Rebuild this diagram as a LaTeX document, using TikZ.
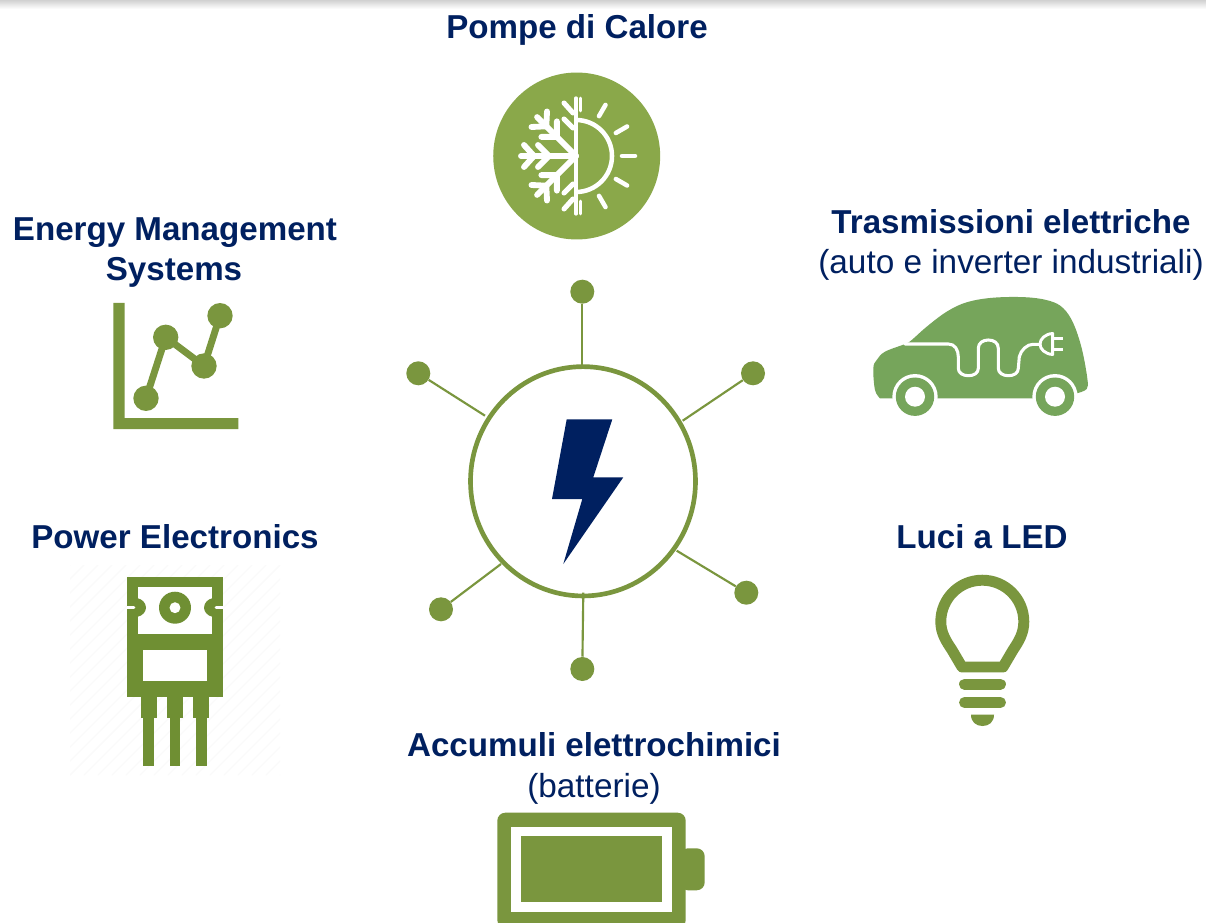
\documentclass[tikz,border=0pt]{standalone}
\usetikzlibrary{shapes.geometric}
\usepackage{fontspec}
\setmainfont{Liberation Sans}
\definecolor{navy}{HTML}{002060}
\definecolor{olive}{HTML}{7A963E}
\definecolor{oliveb}{HTML}{6F8F33}
\definecolor{pump}{HTML}{8AA84A}
\definecolor{carg}{HTML}{76A55B}
\tikzset{
  titlelab/.style={anchor=base,text=navy,inner sep=0pt,font=\fontsize{24.85}{30}\selectfont\bfseries},
  sublab/.style={anchor=base,text=navy,inner sep=0pt,font=\fontsize{25}{30}\selectfont},
  dot/.style={circle,fill=olive,draw=none,minimum size=18pt,inner sep=0pt},
  spoke/.style={draw=olive,line width=1.6pt},
  wln/.style={draw=white,line width=3.4pt,line cap=round},
}
\begin{document}
\begin{tikzpicture}[x=0.75pt,y=-0.75pt]
\useasboundingbox (0,0) rectangle (1206,923);
\fill[white] (0,0) rectangle (1206,923);
\shade[top color=black!18,bottom color=white] (0,0) rectangle (1206,9);

% labels
\node[titlelab] (lpump) at (577,39) {Pompe di Calore};
\node[titlelab] (lems1) at (175,241) {Energy Management};
\node[titlelab] (lems2) at (174,281) {Systems};
\node[titlelab] (ltr1) at (1011,234) {Trasmissioni elettriche};
\node[sublab] (ltr2) at (1011,274) {(auto e inverter industriali)};
\node[titlelab] (lpe) at (175,548) {Power Electronics};
\node[titlelab] (lled) at (982,548) {Luci a LED};
\node[titlelab] (lacc1) at (594,756) {Accumuli elettrochimici};
\node[sublab] (lacc2) at (594,797) {(batterie)};

% hub
\node[ellipse,draw=olive,line width=3.5pt,fill=white,minimum width=168.75pt,minimum height=172pt,inner sep=0pt] (hub) at (583,481.3) {};
\fill[navy] (566.7,419.3) -- (612.3,419.3) -- (593.3,477.3) -- (623.3,477.3) -- (563.3,564) -- (582.3,499) -- (552,499) -- cycle;
\node[dot] (d1) at (582.3,291.7) {};
\node[dot] (d2) at (753,373.3) {};
\node[dot] (d3) at (746.3,592.7) {};
\node[dot] (d4) at (582.3,669) {};
\node[dot] (d5) at (441,609.3) {};
\node[dot] (d6) at (418.3,373.3) {};
\coordinate (e1) at (582.3,365);
\coordinate (e2) at (682.7,420.7);
\coordinate (e3) at (676.7,550.7);
\coordinate (e4) at (583.3,592.7);
\coordinate (e5) at (501,564);
\coordinate (e6) at (485,415.7);
\foreach \i in {1,...,6} {\draw[spoke] (d\i) -- (e\i);}

% heat pump icon
\fill[pump] (576.7,156) circle[radius=62.6pt];
\draw[wln,line width=2.4pt] (576,98) -- (576,214);
\draw[wln,line width=2pt] (580.5,98) -- (580.5,111);
\draw[wln,line width=2pt] (580.5,201) -- (580.5,214);
\draw[wln,line cap=butt] (576,120) .. controls (595.9,120) and (612,136.1) .. (612,156) .. controls (612,175.9) and (595.9,192) .. (576,192);
\foreach \a in {-60,-30,0,30,60} {
  \draw[wln] ({576+46*cos(\a)},{156+46*sin(\a)}) -- ({576+59*cos(\a)},{156+59*sin(\a)});
}
\foreach \a in {135,180,225} {
  \begin{scope}[shift={(576,156)},rotate=\a]
    \draw[wln,line width=4.4pt] (0,0) -- (55,0);
    \draw[wln,line width=4.4pt] (27,0) -- (38,11) (27,0) -- (38,-11) (42,0) -- (52,11) (42,0) -- (52,-11);
  \end{scope}
}
\draw[wln,line width=3.8pt] (573,113) -- (564,103) (573,128) -- (564,119) (573,199) -- (564,209) (573,184) -- (564,193);

% car icon
\fill[carg] plot[smooth,tension=0.6] coordinates {(880,398.3) (875,390) (873.3,368.3) (876.7,360) (885,351.7) (905,344) (911.7,340) (926.7,326.7) (946.7,311.7) (966.7,302.3) (993.3,297.7) (1026.7,297.3) (1050,301) (1063.3,308.3) (1073.3,323.3) (1081.7,348.3) (1087.3,378.3) (1086.7,389) (1076.7,393.3)}
  -- (1076,398.3) -- cycle;
\draw[white,line width=2.3pt,line cap=round] (905,344) -- (948.3,344) .. controls (955,344) and (958.3,350) .. (958.3,356.7) -- (958.3,368.3)
  .. controls (958.3,373) and (963,375.7) .. (968.3,375.7) .. controls (974,375.7) and (978.3,373) .. (978.3,368.3) -- (978.3,348.3)
  .. controls (978.3,343) and (983,340) .. (988.3,340) .. controls (994,340) and (998.3,343) .. (998.3,348.3) -- (998.3,368.3)
  .. controls (998.3,373) and (1003,375.7) .. (1008.3,375.7) .. controls (1014,375.7) and (1018.3,373) .. (1018.3,368.3) -- (1019.3,356.7)
  .. controls (1021,350) and (1027,344.3) .. (1033,344.3) -- (1040,344.3);
\draw[white,line width=2.2pt,line join=round] (1052.7,333.5) .. controls (1045,334) and (1040,339) .. (1040,344.3) .. controls (1040,349) and (1045,354) .. (1052.7,354.5) -- cycle;
\draw[white,line width=2.2pt] (1052.7,338.3) -- (1063,338.3) (1052.7,349.5) -- (1063,349.5);
\foreach \cx in {915,1055} {
  \fill[white] (\cx,396.7) circle[radius=17pt];
  \fill[carg] (\cx,396.7) circle[radius=14.4pt];
  \fill[white] (\cx,396.7) circle[radius=7.5pt];
}

% chart icon
\fill[olive] (113.3,303) -- (124.7,303) -- (124.7,418) -- (238.3,418) -- (238.3,429) -- (113.3,429) -- cycle;
\draw[olive,line width=5.2pt] (146,398.3) -- (165.7,337.3) -- (204,366) -- (220,315.7);
\foreach \px/\py in {146/398.3,165.7/337.3,204/366,220/315.7} {
  \fill[olive] (\px,\py) circle[radius=9.5pt];
}

% transistor icon
\begin{scope}
  \clip (70,565) rectangle (280,775);
  \foreach \k in {0,14,...,420} {
    \draw[black!2,line width=0.8pt] (70+\k,775) -- (70+\k+210,565) (70+\k-420,775) -- (70+\k-210,565);
  }
\end{scope}
\fill[oliveb] (127.3,576.7) rectangle (222.7,697.3);
\fill[white] (137.7,587) rectangle (212.3,634);
\fill[white] (143.3,650) rectangle (206.7,681.3);
\fill[oliveb] (137.7,598.3) .. controls (142,599) and (146,603) .. (146,607.7) .. controls (146,612) and (142,616) .. (137.7,616.7) -- cycle;
\fill[oliveb] (212.3,598.3) .. controls (208,599) and (204,603) .. (204,607.7) .. controls (204,612) and (208,616) .. (212.3,616.7) -- cycle;
\draw[white,line width=2pt,line cap=round] (127.3,607.7) -- (134,607.7) (222.7,607.7) -- (216,607.7);
\fill[oliveb] (175,607.7) circle[radius=12pt];
\fill[white] (175,607.7) circle[radius=4.1pt];
\foreach \lx in {0,26.4,52.7} {
  \fill[oliveb] ({140.7+\lx},697) rectangle ({156.7+\lx},718.3);
  \fill[oliveb] ({143.3+\lx},718) rectangle ({154+\lx},765.7);
}

% bulb icon
\draw[olive,line width=8.2pt,line join=round] (962,667) -- (1003,667) -- (1013,650) .. controls (1019,641) and (1023.8,633) .. (1023.8,621.7)
  .. controls (1023.8,598.7) and (1005.3,580.2) .. (982.3,580.2)
  .. controls (959.3,580.2) and (940.8,598.7) .. (940.8,621.7)
  .. controls (940.8,633) and (946,641) .. (952,650) -- cycle;
\draw[olive,line width=8.2pt,line cap=round] (964.5,684.2) -- (1000.5,684.2) (964.5,702.5) -- (1000.5,702.5);
\fill[olive] (971,714.7) -- (994,714.7) .. controls (994,722) and (989,726) .. (982.5,726) .. controls (976,726) and (971,722) .. (971,714.7) -- cycle;

% battery icon
\fill[olive,rounded corners=6pt] (497.3,812.7) rectangle (685.7,928);
\fill[white] (511,826.7) rectangle (671.7,911.7);
\fill[olive] (520.7,836.3) rectangle (662.3,902.3);
\fill[olive,rounded corners=6pt] (680,848.3) rectangle (704.7,890.3);
\end{tikzpicture}
\end{document}
